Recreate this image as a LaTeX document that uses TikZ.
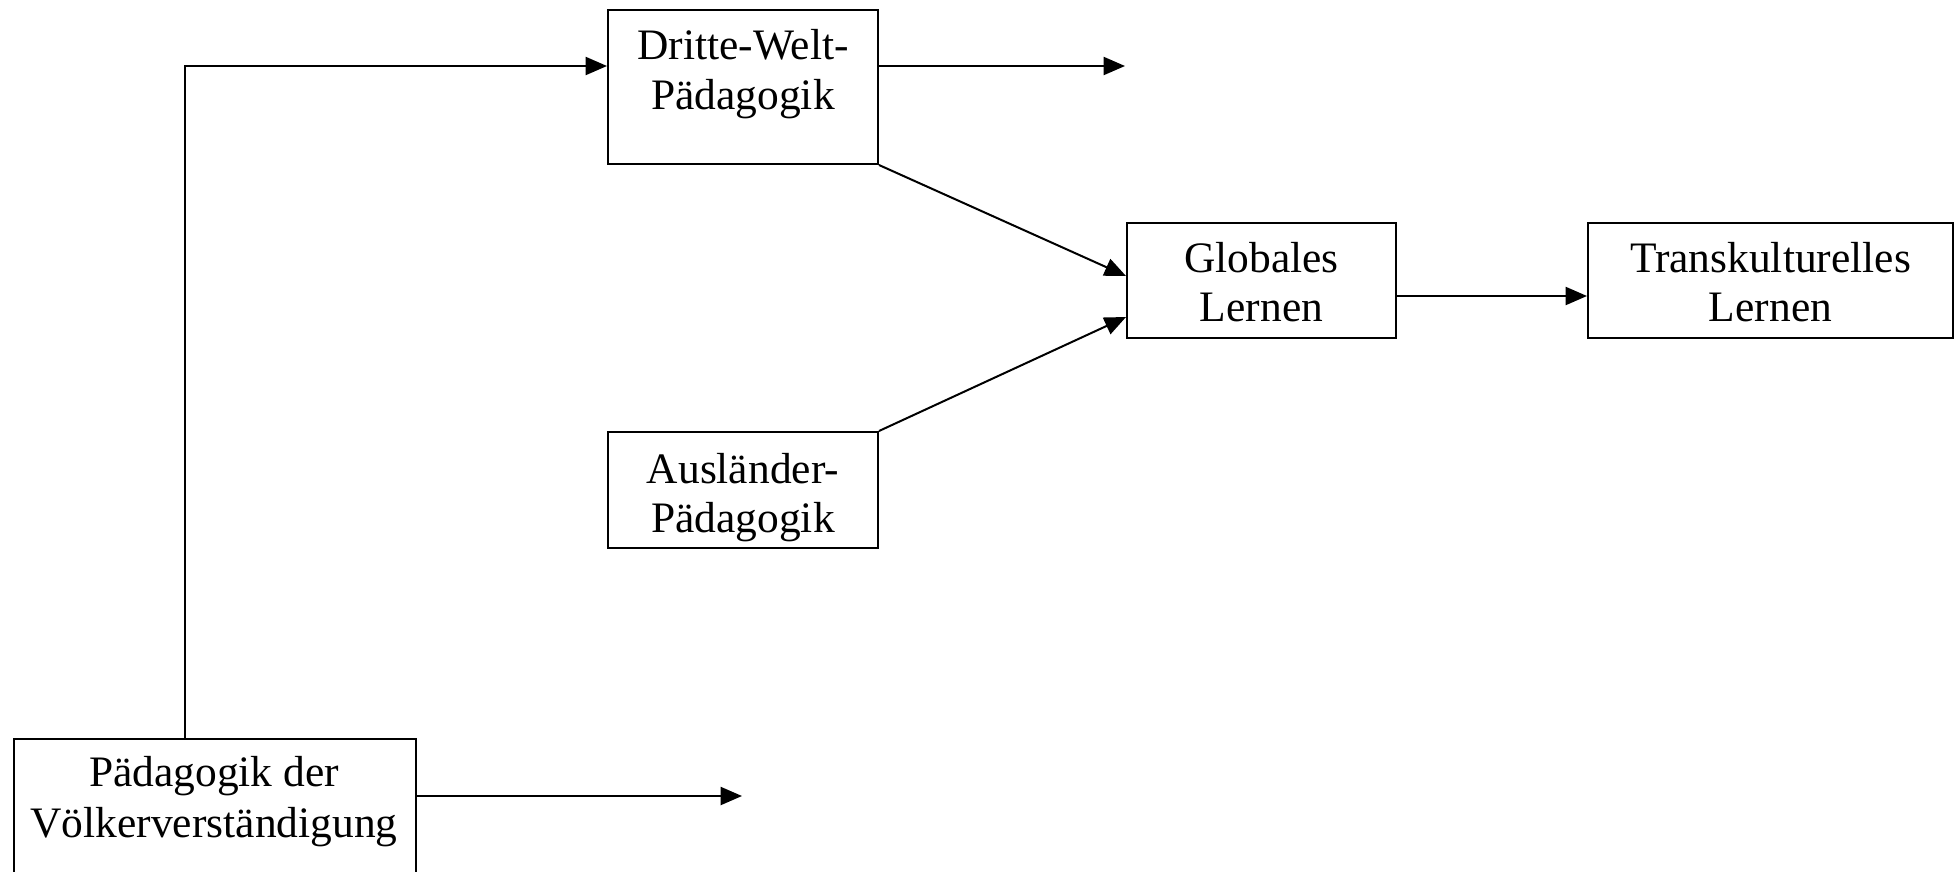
\documentclass[tikz,border=0pt]{standalone}
\usepackage{fontspec}
\setmainfont{Liberation Serif}
\usetikzlibrary{arrows.meta,calc}
\begin{document}
\begin{tikzpicture}[x=0.75pt,y=-0.75pt,
  box/.style={draw,line width=1.5pt,minimum width=#1,inner sep=0pt},
  txt/.style={anchor=base,inner sep=0pt,font=\fontsize{32.6pt}{35pt}\selectfont},
  con/.style={line width=1.5pt},
  arr/.style={con,-{Triangle[length=16pt,width=13.5pt]}}]
\clip (0,0) rectangle (1959,871);
\fill[white] (0,0) rectangle (1959,871);
% boxes
\node[box=202.5pt,minimum height=115.5pt] (dw) at (743,87) {};
\node[box=201.75pt,minimum height=86.25pt] (gl) at (1261.5,280.5) {};
\node[box=273.75pt,minimum height=86.25pt] (tk) at (1770.5,280.5) {};
\node[box=202.5pt,minimum height=87pt] (al) at (743,490) {};
\node[box=301.5pt,minimum height=135pt] (pv) at (215,829) {};
% texts
\node[txt] (dw1) at (743,59) {Dritte-Welt-};
\node[txt] (dw2) at (743,109) {Pädagogik};
\node[txt] (gl1) at (1261.5,272) {Globales};
\node[txt] (gl2) at (1261.5,321) {Lernen};
\node[txt] (tk1) at (1770.5,272) {Transkulturelles};
\node[txt] (tk2) at (1770.5,321) {Lernen};
\node[txt] (al1) at (743,483) {Ausländer-};
\node[txt] (al2) at (743,532) {Pädagogik};
\node[txt] (pv1) at (214,786) {Pädagogik der};
\node[txt] (pv2) at (214,837) {Völkerverständigung};
% anchors on box sides
\coordinate (s1) at ($(dw.north east)+(0,57)$);
\coordinate (s2) at ($(pv.north east)+(0,58)$);
\coordinate (s3) at ($(pv.north west)+(172,0)$);
\coordinate (t3) at ($(dw.north west)+(0,57)$);
% free ends
\coordinate (e1) at (1125,67);
\coordinate (e2) at (742,797);
% connectors
\draw[arr] (s3) |- (t3);
\draw[arr] (s1) -- (s1 -| e1);
\draw[arr] (s2) -- (s2 -| e2);
\draw[arr] (dw.south east) -- ($(gl.north west)+(0,54)$);
\draw[arr] (al.north east) -- ($(gl.north west)+(0,95)$);
\draw[arr] ($(gl.north east)+(0,74)$) -- ($(tk.north west)+(0,74)$);
\end{tikzpicture}
\end{document}
